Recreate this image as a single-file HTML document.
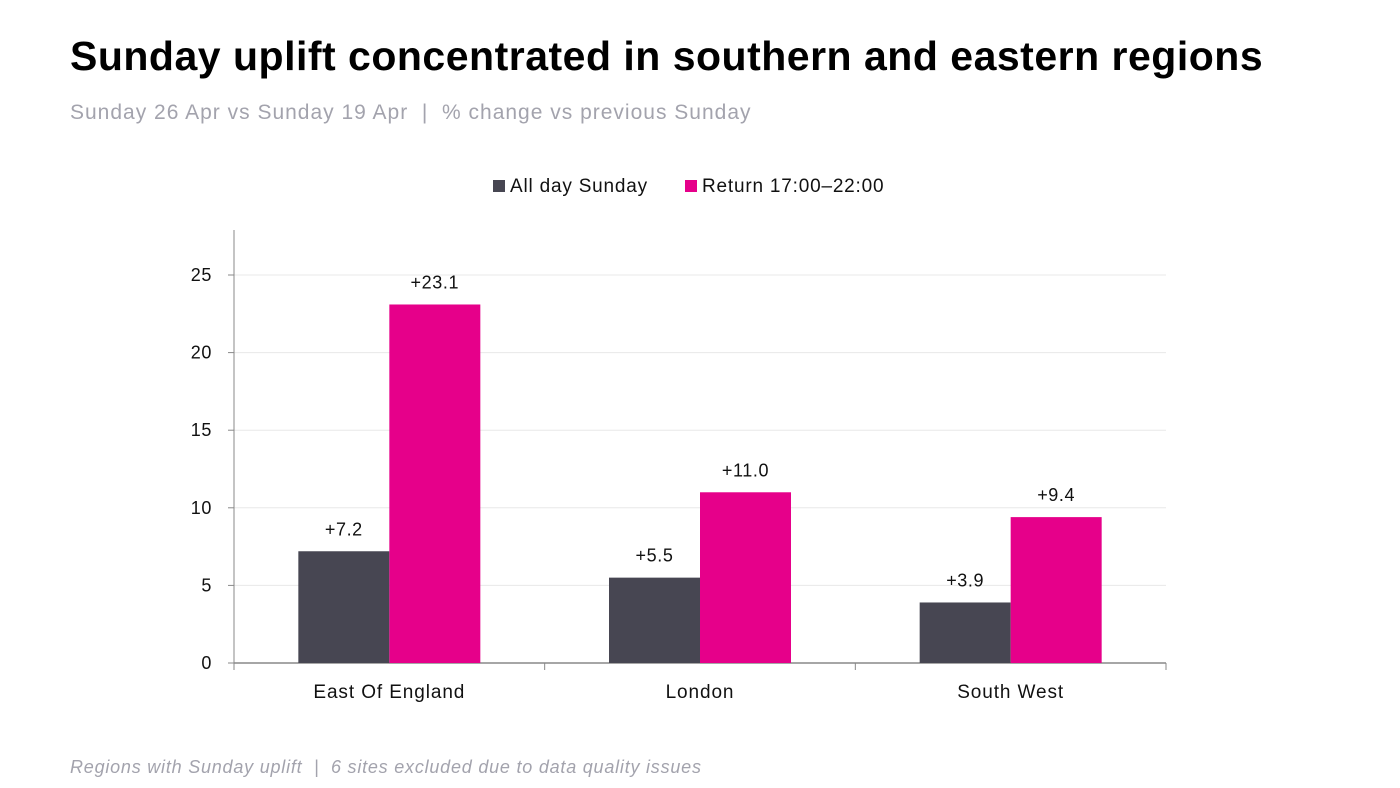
<!DOCTYPE html>
<html><head><meta charset="utf-8"><style>
body{margin:0;background:#fff;width:1400px;height:788px;overflow:hidden;font-family:"Liberation Sans",sans-serif}
.t{position:absolute;left:70px;top:33px;font-size:41px;font-weight:bold;color:#000;letter-spacing:0.5px;white-space:nowrap}
.s{position:absolute;left:70px;top:101px;font-size:21px;color:#a3a3ad;letter-spacing:1px;white-space:nowrap}
.f{position:absolute;left:70px;top:757px;font-size:18px;font-style:italic;color:#a3a3ad;letter-spacing:0.78px;white-space:nowrap}
svg{position:absolute;left:0;top:0}
</style></head><body>
<div class="t">Sunday uplift concentrated in southern and eastern regions</div>
<div class="s">Sunday 26 Apr vs Sunday 19 Apr &nbsp;| &nbsp;% change vs previous Sunday</div>
<div class="f">Regions with Sunday uplift &nbsp;| &nbsp;6 sites excluded due to data quality issues</div>
<svg id="c" width="1400" height="788"></svg>
<script>
const categories=["East Of England","London","South West"];
const allDay=[7.2,5.5,3.9];
const returnEve=[23.1,11.0,9.4];
const yTicks=[0,5,10,15,20,25];
const seriesNames=["All day Sunday","Return 17:00\u201322:00"];
const colors=["#474652","#e6008a"];
const svg=document.getElementById('c');const NS="http://www.w3.org/2000/svg";
const x0=234,x1=1166,yZero=663,yTop=275,yMax=25;
const y=v=>yZero-(v/yMax)*(yZero-yTop);
const bw=(x1-x0)/categories.length;
function mk(t,a,txt){const e=document.createElementNS(NS,t);for(const k in a)e.setAttribute(k,a[k]);if(txt!=null)e.textContent=txt;svg.appendChild(e);return e;}
yTicks.forEach(v=>{
 if(v>0){const g=mk('line',{x1:x0,x2:x1,y1:y(v),y2:y(v),stroke:'#e8e8e8','stroke-width':1});
 
 }
 const tk=mk('line',{x1:x0-6,x2:x0,y1:y(v),y2:y(v),stroke:'#888'});
 
 
 const l=mk('text',{x:212,y:y(v)+6,'text-anchor':'end','font-size':18,'letter-spacing':0.6,fill:'#111'},v);
 
 
});
const ya=mk('line',{x1:x0,x2:x0,y1:230,y2:yZero,stroke:'#888'});


const xa=mk('line',{x1:x0,x2:x1,y1:yZero,y2:yZero,stroke:'#888','stroke-width':1.5});


for(let i=0;i<=categories.length;i++){const t=mk('line',{x1:x0+i*bw,x2:x0+i*bw,y1:yZero,y2:yZero+7,stroke:'#888'});
 
 }
categories.forEach((c,i)=>{
 const cx=x0+bw*(i+0.5);
 [allDay,returnEve].forEach((s,j)=>{
  const bx=cx-91+j*91;const v=s[i];
  const r=mk('rect',{x:bx,y:y(v),width:91,height:yZero-y(v),fill:colors[j]});
  
  
  const t=mk('text',{x:bx+45.5,y:y(v)-16,'text-anchor':'middle','font-size':18,'letter-spacing':0.6,fill:'#111'},'+'+v.toFixed(1));
  
  
 });
 const l=mk('text',{x:cx,y:698,'text-anchor':'middle','font-size':19,'letter-spacing':0.9,fill:'#111'},c);
 
 
});
const lx=[493,685];
seriesNames.forEach((n,j)=>{
 const r=mk('rect',{x:lx[j],y:180,width:12,height:12,fill:colors[j]});
 
 
 const t=mk('text',{x:lx[j]+17,y:192,'font-size':19,'letter-spacing':0.8,fill:'#111'},n);
 
 
});
</script>
</body></html>
